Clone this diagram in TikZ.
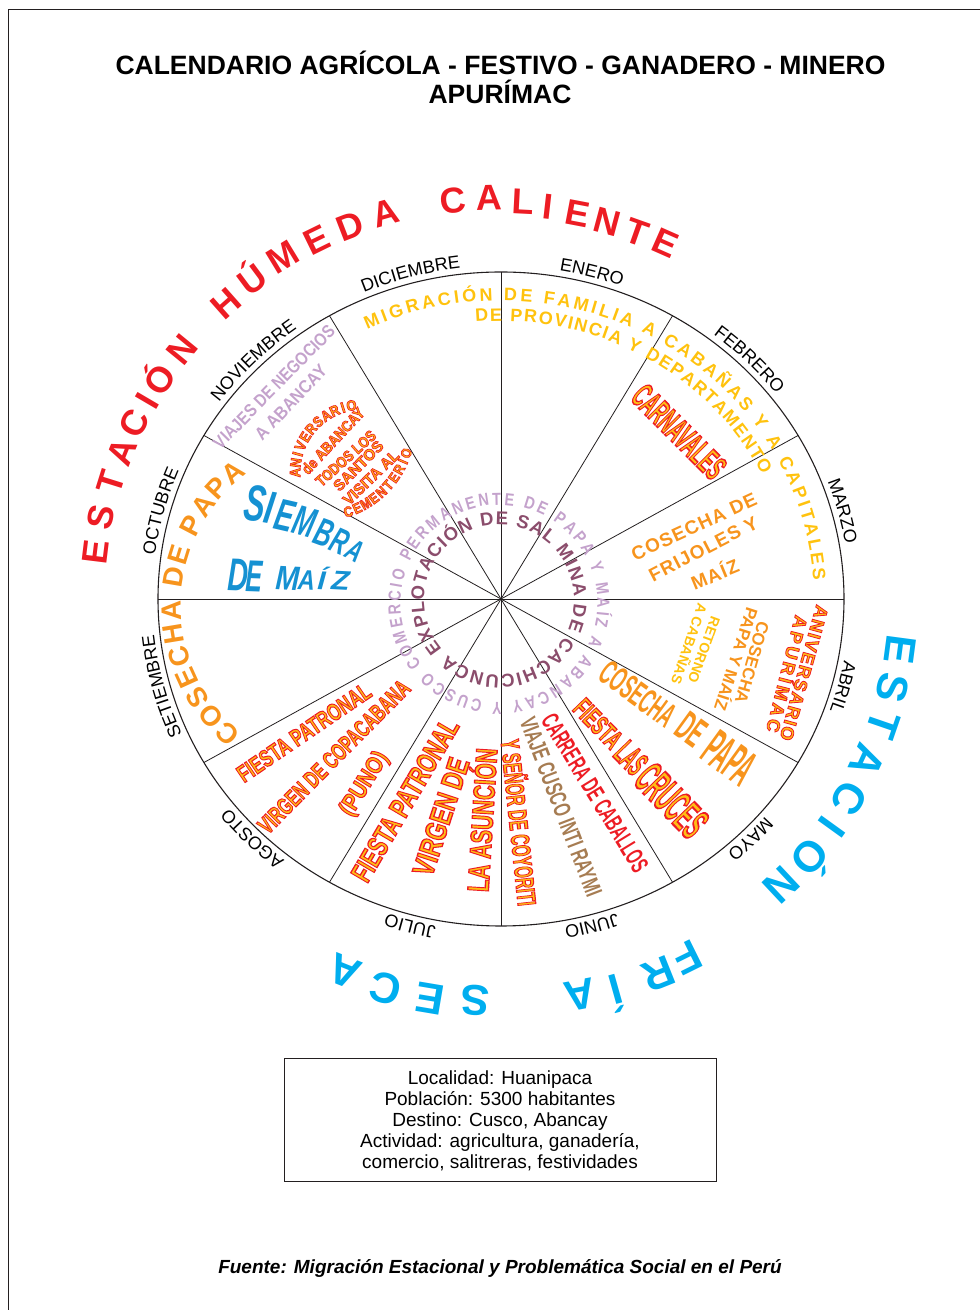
\documentclass[tikz,border=0pt]{standalone}
\usepackage{fontspec}
\setmainfont{Liberation Sans}
\newfontfamily\ringfont{Liberation Sans}[FakeStretch=0.82]
\newfontfamily\globeF{Liberation Sans}[FakeStretch=0.85, FakeBold=4.5]
\newfontfamily\fireF{Liberation Sans}[FakeBold=4.5]
\newfontfamily\siebfont{Liberation Sans}[FakeStretch=0.62]
\usetikzlibrary{decorations.text}
\definecolor{sred}{HTML}{ED1C24}
\definecolor{sblue}{HTML}{00AEEF}
\definecolor{gold}{HTML}{FFC20E}
\definecolor{orng}{HTML}{F7941D}
\definecolor{lilac}{HTML}{C4A2CC}
\definecolor{mauve}{HTML}{8B4D6C}
\definecolor{mblue}{HTML}{1591D2}
\definecolor{tanbr}{HTML}{A67C52}
\definecolor{linegray}{HTML}{231F20}
\newcommand\fs[1]{\fontsize{#1}{#1}\selectfont}
\newcommand\cb[1]{\smash{#1}\vphantom{E}}
% fire text: yellow-orange fill, red stroke (fake bold stroke)
\newcommand\fz[1]{\special{pdf:bcolor [1 0.74 0.08] [0.929 0.110 0.141]}#1\special{pdf:ecolor}}
\newcommand\monthlabel[2]{\path[decorate, decoration={text along path, text align=center,
  text={|\fs{18}|#2}}] ({#1+25}:349 and 333) arc[start angle={#1+25}, end angle={#1-25}, x radius=349, y radius=333];}
\tikzset{
  lbl/.style={inner sep=0pt, outer sep=0pt},
  firetxt/.style={inner sep=0pt, outer sep=0pt},
  wheel/.style={line width=1.1pt, draw=linegray},
  spoke/.style={line width=0.8pt, draw=linegray},
}
\begin{document}
\begin{tikzpicture}[x=1pt,y=1pt]
\useasboundingbox (0,0) rectangle (980,1310);
\draw[line width=1pt, draw=linegray] (8,0) -- (8,1300) -- (980,1300);
\node[lbl, font=\bfseries\fs{26.5}] (t1) at (500.5,1245) {\cb{CALENDARIO AGRÍCOLA - FESTIVO - GANADERO - MINERO}};
\node[lbl, font=\bfseries\fs{26.5}] (t2) at (500,1215.5) {\cb{APURÍMAC}};

\begin{scope}[shift={(501,711)}]
\coordinate (c) at (0,0);
% seasons
\foreach \a/\rr/\ltr in {173/389/E, 167.9/390/S, 162.6/390/T, 157.9/390/A, 153.3/391/C, 149.6/391/I, 146/392/Ó, 140.7/393/N, 131.5/395/H, 126.6/398/Ú, 121.3/400/M, 116.1/400/E, 111.1/400/D, 105.9/401/A, 96.5/401/C, 91.6/401/A, 87/398/L, 83.5/395/I, 79.2/392/E, 75/390/N, 70.5/389/T, 66.2/389/E}
  \node[lbl, text=sred, font=\bfseries\fs{36}, rotate=\a-90] at ({\a}:{1.049*\rr} and {\rr}) {\cb{\ltr}};
\foreach \a/\rr/\ltr in {-7.6/384/E, -13.4/384/S, -19.0/385/T, -24.9/385/A, -31.0/387/C, -35.8/389/I, -41.2/391/Ó, -46.9/391/N, -63.7/400/F, -68.2/404/R, -74.3/405/Í, -79.2/403/A, -93.5/402/S, -99.6/405/E, -105.8/405/C, -111.8/401/A}
  \node[lbl, text=sblue, font=\bfseries\fs{43}, rotate=\a-90] at ({\a}:{1.049*\rr} and {\rr}) {\cb{\ltr}};
% wheel
\draw[wheel] (c) ellipse [x radius=343, y radius=327];
\foreach \a in {0,30,...,330} \draw[spoke] (c) -- (\a:343 and 327);
% months
\monthlabel{105}{DICIEMBRE}
\monthlabel{75}{ENERO}
\monthlabel{45}{FEBRERO}
\monthlabel{15}{MARZO}
\monthlabel{-15}{ABRIL}
\monthlabel{-45}{MAYO}
\monthlabel{-75}{JUNIO}
\monthlabel{-105}{JULIO}
\monthlabel{-135}{AGOSTO}
\monthlabel{-165}{SETIEMBRE}
\monthlabel{165}{OCTUBRE}
\monthlabel{135}{NOVIEMBRE}
% migration (yellow)
\path[decorate, decoration={text along path, text align=fit to path,
  text={|\bfseries\fs{18}\color{gold}|MIGRACIÓN DE FAMILIA A CABAÑAS Y A CAPITALES}}]
  (115.3:313 and 298.5) arc[start angle=115.3, end angle=3.5, x radius=313, y radius=298.5];
\path[decorate, decoration={text along path, text align=fit to path,
  text={|\bfseries\fs{18}\color{gold}|DE PROVINCIA Y DEPARTAMENTO}}]
  (95:291.6 and 278) arc[start angle=95, end angle=26.5, x radius=291.6, y radius=278];
% COSECHA DE PAPA (orange, left)
\path[shift={(-156,-7)}, decorate, decoration={text along path, text align=fit to path,
  text={|\bfseries\fs{28}\color{orng}|COSECHA DE PAPA}}]
  (231:164) arc[start angle=231, end angle=126.4, radius=164];
% SIEMBRA DE MAIZ
\foreach \x/\y/\s/\rt/\xs/\ltr in {-246/95.7/51.3/-8/1/S, -231.5/91.5/46/-10/1.15/I, -216/83.2/44.7/-13/1/E, -196/77.3/41.9/-16/1/M, -177/66.5/39.1/-20/1/B, -161/57.3/36.3/-24/1/R, -146/48.2/30.7/-28/1.1/A, -263/24/46/-2/1/D, -247/23/44.7/-2/0.9/E, -213/21/34/-3/1.35/M, -194.3/18.5/28/-3/1.35/A, -179.3/18.5/26/-3/1.8/Í, -160.5/18.5/27/-3/1.8/Z}
  \node[lbl, text=mblue, font=\siebfont\bfseries\itshape\fs{\s}, rotate=\rt, xscale=\xs] at (\x,\y) {\cb{\ltr}};
% NOVIEMBRE
\node[lbl, text=lilac, font=\bfseries\fs{18}, rotate=45.5, xscale=0.84] (viajes) at (-227,212) {\cb{VIAJES DE NEGOCIOS}};
\node[lbl, text=lilac, font=\bfseries\fs{18}, rotate=46.5, xscale=0.9] (aab) at (-210.2,196.5) {\cb{A ABANCAY}};
% globe
\begin{scope}[shift={(-137.7,126.3)}]
\foreach \a/\ltr in {180/A, 171.6/N, 164.2/I, 156.8/V, 148.4/E, 140/R, 131.6/S, 123.2/A, 114.8/R, 107.4/I, 100/O}
  \node[firetxt, font=\globeF\bfseries\fs{15}, rotate=\a-90] at (\a:68.2) {\cb{\fz{\ltr}}};
\end{scope}
\begin{scope}[shift={(-181.9,174.1)}]
\foreach \a/\ltr in {-71.4/C, -65.4/E, -59.3/M, -53.3/E, -47.2/N, -41.2/T, -35.2/E, -29.1/R, -23.6/I, -18/O}
  \node[firetxt, font=\globeF\bfseries\fs{14.5}, rotate=\a+90] at (\a:91.6) {\cb{\fz{\ltr}}};
\end{scope}
\node[firetxt, font=\fireF\bfseries\fs{15.4}, rotate=47, xscale=0.86] at (-168,158) {\cb{\fz{de ABANCAY}}};
\node[firetxt, font=\fireF\bfseries\fs{15.4}, rotate=42, xscale=0.83] at (-155.2,140.7) {\cb{\fz{TODOS LOS}}};
\node[firetxt, font=\fireF\bfseries\fs{15.4}, rotate=45, xscale=1] at (-142.7,133.2) {\cb{\fz{SANTOS}}};
\node[firetxt, font=\fireF\bfseries\fs{15.4}, rotate=44, xscale=0.97] at (-130,121.5) {\cb{\fz{VISITA AL}}};
% FEBRERO
\node[firetxt, font=\fireF\bfseries\fs{35}, rotate=-45, xscale=0.49] (carn) at (178,167.3) {\cb{\fz{CARNAVALES}}};
% MARZO
\node[lbl, text=orng, font=\bfseries\fs{19}\addfontfeature{LetterSpace=6}, rotate=24.8] at (193,72.3) {\cb{COSECHA DE}};
\node[lbl, text=orng, font=\bfseries\fs{19}\addfontfeature{LetterSpace=6}, rotate=27.3] at (202.3,50) {\cb{FRIJOLES Y}};
\node[lbl, text=orng, font=\bfseries\fs{19}\addfontfeature{LetterSpace=6}, rotate=22.6] at (214,24) {\cb{MAÍZ}};
% ABRIL
\node[firetxt, font=\fireF\bfseries\fs{18}\addfontfeature{LetterSpace=8}, rotate=-105.4] at (303,-74) {\cb{\fz{ANIVERSARIO}}};
\node[firetxt, font=\fireF\bfseries\fs{18}\addfontfeature{LetterSpace=18}, rotate=-104.3] at (285.7,-75) {\cb{\fz{APURÍMAC}}};
\node[lbl, text=orng, font=\bfseries\fs{17}, rotate=-106] at (251,-63.5) {\cb{COSECHA}};
\node[lbl, text=orng, font=\bfseries\fs{17}, rotate=-108] at (235,-60) {\cb{PAPA Y MAÍZ}};
\node[lbl, text=gold, font=\bfseries\fs{14}, rotate=-110] at (203,-51) {\cb{RETORNO}};
\node[lbl, text=gold, font=\bfseries\fs{14}, rotate=-109] at (188,-45) {\cb{A CABAÑAS}};
% MAYO
\node[lbl, text=orng, font=\bfseries\fs{35}, rotate=-36, xscale=0.49] at (137,-95) {\cb{COSECHA}};
\node[lbl, text=orng, font=\bfseries\fs{42}, rotate=-36, xscale=0.45] at (191,-131) {\cb{DE}};
\node[lbl, text=orng, font=\bfseries\fs{52}, rotate=-36, xscale=0.38] at (229,-159) {\cb{PAPA}};
\node[firetxt, font=\fireF\bfseries\fs{28}, rotate=-46, xscale=0.58] at (97,-124.6) {\cb{\fz{FIESTA}}};
\node[firetxt, font=\fireF\bfseries\fs{35}, rotate=-46, xscale=0.43] at (130,-159) {\cb{\fz{LAS}}};
\node[firetxt, font=\fireF\bfseries\fs{45}, rotate=-46, xscale=0.43] at (170.6,-201.6) {\cb{\fz{CRUCES}}};
% JUNIO
\node[lbl, text=sred, font=\bfseries\fs{25}, rotate=-58.5, xscale=0.58] at (94,-194) {\cb{CARRERA DE CABALLOS}};
\node[lbl, text=tanbr, font=\bfseries\fs{24}, rotate=-69, xscale=0.64] at (60,-207.7) {\cb{VIAJE CUSCO INTI RAYMI}};
\node[firetxt, font=\fireF\bfseries\fs{26}, rotate=-84, xscale=0.57] at (17.3,-223.5) {\cb{\fz{Y SEÑOR DE COYORITI}}};
% JULIO
\node[firetxt, font=\fireF\bfseries\fs{29}, rotate=59.6, xscale=0.69] at (-96,-201) {\cb{\fz{FIESTA PATRONAL}}};
\node[firetxt, font=\fireF\bfseries\fs{30}, rotate=71.8, xscale=0.74] at (-60,-217.7) {\cb{\fz{VIRGEN DE}}};
\node[firetxt, font=\fireF\bfseries\fs{30}, rotate=86.4, xscale=0.69] at (-18.5,-221) {\cb{\fz{LA ASUNCIÓN}}};
% AGOSTO
\node[firetxt, font=\fireF\bfseries\fs{24}, rotate=34.2, xscale=0.71] at (-197,-133.5) {\cb{\fz{FIESTA PATRONAL}}};
\node[firetxt, font=\fireF\bfseries\fs{24}, rotate=45.3, xscale=0.66] at (-167,-157.7) {\cb{\fz{VIRGEN DE COPACABANA}}};
\node[firetxt, font=\fireF\bfseries\fs{24}, rotate=58, xscale=0.83] at (-138,-184) {\cb{\fz{(PUNO)}}};
% center rings
\path[shift={(-2,-4.5)}, decorate, decoration={text along path, text align=fit to path,
  text={|\ringfont\bfseries\fs{17.5}\color{lilac}|COMERCIO PERMANENTE DE PAPA Y MAÍZ A ABANCAY Y CUSCO}}]
  (218.2:98.5) arc[start angle=218.2, end angle=-136.3, radius=98.5];
\path[shift={(-2,-1)}, decorate, decoration={text along path, text align=fit to path,
  text={|\bfseries\fs{18.5}\color{mauve}|EXPLOTACIÓN DE SAL MINA DE CACHICUNCA}}]
  (220.7:75) arc[start angle=220.7, end angle=-133.2, radius=75];
\end{scope}

% info box
\draw[line width=1pt, draw=linegray] (284,128) rectangle (716,251);
\node[lbl, font=\fs{19}] (i1) at (500,232) {\cb{Localidad: Huanipaca}};
\node[lbl, font=\fs{19}] (i2) at (500,211) {\cb{Población: 5300 habitantes}};
\node[lbl, font=\fs{19}] (i3) at (500,190) {\cb{Destino: Cusco, Abancay}};
\node[lbl, font=\fs{19}] (i4) at (500,169) {\cb{Actividad: agricultura, ganadería,}};
\node[lbl, font=\fs{19}] (i5) at (500,148) {\cb{comercio, salitreras, festividades}};
\node[lbl, font=\bfseries\itshape\fs{19}] (src) at (500,43) {\cb{Fuente: Migración Estacional y Problemática Social en el Perú}};
\end{tikzpicture}
\end{document}
